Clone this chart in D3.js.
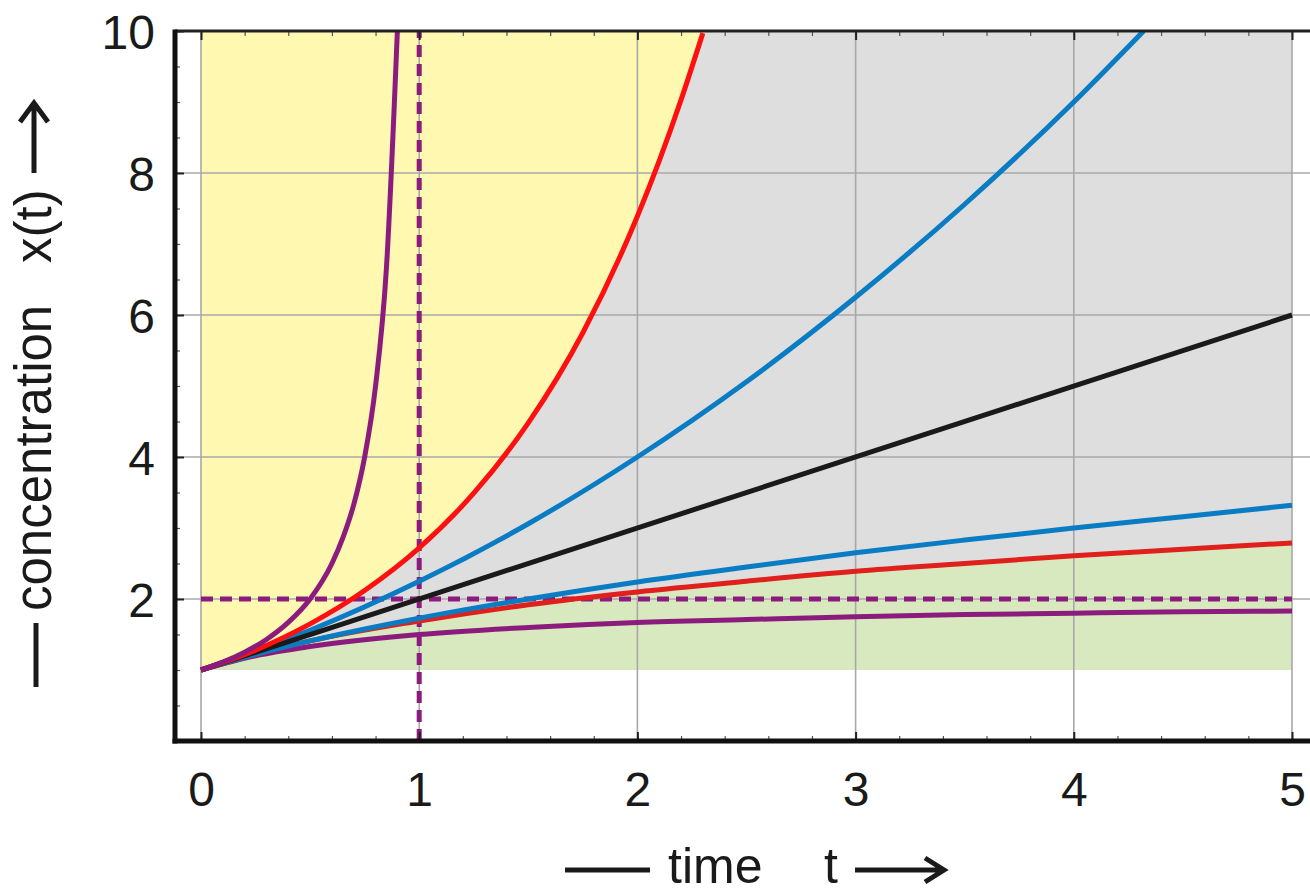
<!DOCTYPE html>
<html>
<head>
<meta charset="utf-8">
<script src="https://cdn.jsdelivr.net/npm/d3@7"></script>
<style>
  body { margin: 0; background: #fff; }
  svg { display: block; }
  text { font-family: "Liberation Sans", Arial, Helvetica, sans-serif; fill: #1a1a1a; }
</style>
</head>
<body>
<div id="chart-area"></div>
<script>
// tick labels
const xTickValues = [0, 1, 2, 3, 4, 5];
const yTickValues = [2, 4, 6, 8, 10];

// curves (time t, concentration x)
const tPurpleUp = [0, 0.1, 0.2, 0.3, 0.4, 0.5, 0.6, 0.65, 0.7, 0.75, 0.8, 0.85, 0.9];
const xPurpleUp = [1, 1.11, 1.25, 1.43, 1.67, 2.0, 2.5, 2.86, 3.33, 4.0, 5.0, 6.67, 10];

const tRedUp = [0, 0.25, 0.5, 0.75, 1, 1.25, 1.5, 1.75, 2, 2.1, 2.2, 2.3];
const xRedUp = [1, 1.28, 1.65, 2.12, 2.72, 3.49, 4.48, 5.75, 7.39, 8.17, 9.03, 9.97];

const tBlueUp = [0, 0.5, 1, 1.5, 2, 2.5, 3, 3.5, 4, 4.32];
const xBlueUp = [1, 1.56, 2.25, 3.06, 4, 5.06, 6.25, 7.56, 9, 10];

const tBlack = [0, 5];
const xBlack = [1, 6];

const tLow = [0, 0.25, 0.5, 1, 1.5, 2, 2.5, 3, 3.5, 4, 4.5, 5];
const xBlueLow = [1, 1.22, 1.41, 1.73, 2, 2.24, 2.45, 2.65, 2.83, 3, 3.16, 3.32];
const xRedLow = [1, 1.22, 1.41, 1.69, 1.92, 2.10, 2.25, 2.39, 2.50, 2.61, 2.70, 2.79];
const xPurpleLow = [1, 1.2, 1.33, 1.5, 1.6, 1.67, 1.71, 1.75, 1.78, 1.8, 1.82, 1.83];

// dashed guide lines
const guideT = 1;
const guideX = 2;

const WIDTH = 1310, HEIGHT = 894;
const FRAME = { LEFT: 175, RIGHT: 1310, TOP: 31, BOTTOM: 741 };

const svg = d3.select("#chart-area").append("svg")
    .attr("width", WIDTH)
    .attr("height", HEIGHT);

const x = d3.scaleLinear().domain([0, 5]).range([201, 1292]);
const y = d3.scaleLinear().domain([0, 10]).range([741, 31]);

const zip = (ts, xs) => ts.map((t, i) => ({ t: t, v: xs[i] }));

svg.append("clipPath").attr("id", "plot-clip")
  .append("rect")
    .attr("x", FRAME.LEFT).attr("y", FRAME.TOP)
    .attr("width", FRAME.RIGHT - FRAME.LEFT).attr("height", FRAME.BOTTOM - FRAME.TOP);

const g = svg.append("g").attr("clip-path", "url(#plot-clip)");

// region fills
g.append("rect")
    .attr("x", x(0)).attr("y", y(10))
    .attr("width", x(5) - x(0)).attr("height", y(1) - y(10))
    .attr("fill", "#dedede");

g.append("path")
    .datum(zip(tRedUp, xRedUp))
    .attr("fill", "#fef8b0")
    .attr("d", d3.area().curve(d3.curveMonotoneX)
        .x(d => x(d.t)).y0(d => y(d.v)).y1(y(10)));

g.append("path")
    .datum(zip(tLow, xRedLow))
    .attr("fill", "#d9e9bf")
    .attr("d", d3.area().curve(d3.curveMonotoneX)
        .x(d => x(d.t)).y0(y(1)).y1(d => y(d.v)));

// grid
g.selectAll(".vgrid").data(xTickValues).enter().append("line")
    .attr("x1", d => x(d)).attr("x2", d => x(d))
    .attr("y1", FRAME.TOP).attr("y2", FRAME.BOTTOM)
    .attr("stroke", "#a8a8a8").attr("stroke-width", 1.6);

g.selectAll(".hgrid").data(yTickValues).enter().append("line")
    .attr("x1", FRAME.LEFT).attr("x2", FRAME.RIGHT)
    .attr("y1", d => y(d)).attr("y2", d => y(d))
    .attr("stroke", "#a8a8a8").attr("stroke-width", 1.6);

// dashed guides
g.append("line")
    .attr("x1", x(guideT)).attr("x2", x(guideT))
    .attr("y1", y(0)).attr("y2", y(10))
    .attr("stroke", "#8b1c7e").attr("stroke-width", 5)
    .attr("stroke-dasharray", "12,7");
g.append("line")
    .attr("x1", x(0)).attr("x2", x(5))
    .attr("y1", y(guideX)).attr("y2", y(guideX))
    .attr("stroke", "#8b1c7e").attr("stroke-width", 5)
    .attr("stroke-dasharray", "12,7");

// curves
const line = d3.line().curve(d3.curveMonotoneX).x(d => x(d.t)).y(d => y(d.v));
const curves = [
    { data: zip(tLow, xPurpleLow), color: "#8b1c7e" },
    { data: zip(tLow, xRedLow), color: "#e0201c" },
    { data: zip(tLow, xBlueLow), color: "#0a7cc4" },
    { data: zip(tBlueUp, xBlueUp), color: "#0a7cc4" },
    { data: zip(tBlack, xBlack), color: "#1a1a1a" },
    { data: zip(tRedUp, xRedUp), color: "#ff1010" },
    { data: zip(tPurpleUp, xPurpleUp), color: "#8b1c7e" }
];
curves.forEach(c => {
    g.append("path")
        .datum(c.data)
        .attr("fill", "none")
        .attr("stroke", c.color)
        .attr("stroke-width", 5)
        .attr("stroke-linejoin", "round")
        .attr("d", line);
});

// minor / major ticks (inward)
const xMinorTicks = d3.range(0, 5.01, 0.2);
const yMinorTicks = d3.range(0.5, 10, 0.5);

svg.append("g")
    .attr("transform", `translate(0, ${FRAME.BOTTOM})`)
    .call(d3.axisBottom(x).tickValues(xMinorTicks).tickSize(-5).tickFormat(""))
    .call(a => a.select(".domain").remove())
    .call(a => a.selectAll("line").attr("stroke", "#555").attr("stroke-width", 1.2));
svg.append("g")
    .attr("transform", `translate(0, ${FRAME.TOP})`)
    .call(d3.axisTop(x).tickValues(xMinorTicks).tickSize(-5).tickFormat(""))
    .call(a => a.select(".domain").remove())
    .call(a => a.selectAll("line").attr("stroke", "#555").attr("stroke-width", 1.2));
svg.append("g")
    .attr("transform", `translate(${FRAME.LEFT}, 0)`)
    .call(d3.axisLeft(y).tickValues(yMinorTicks).tickSize(-5).tickFormat(""))
    .call(a => a.select(".domain").remove())
    .call(a => a.selectAll("line").attr("stroke", "#555").attr("stroke-width", 1.2));
svg.append("g")
    .attr("transform", `translate(0, ${FRAME.BOTTOM})`)
    .call(d3.axisBottom(x).tickValues(xTickValues).tickSize(-9).tickFormat(""))
    .call(a => a.select(".domain").remove())
    .call(a => a.selectAll("line").attr("stroke", "#222").attr("stroke-width", 2));
svg.append("g")
    .attr("transform", `translate(0, ${FRAME.TOP})`)
    .call(d3.axisTop(x).tickValues(xTickValues).tickSize(-9).tickFormat(""))
    .call(a => a.select(".domain").remove())
    .call(a => a.selectAll("line").attr("stroke", "#222").attr("stroke-width", 2));
svg.append("g")
    .attr("transform", `translate(${FRAME.LEFT}, 0)`)
    .call(d3.axisLeft(y).tickValues(yTickValues).tickSize(-9).tickFormat(""))
    .call(a => a.select(".domain").remove())
    .call(a => a.selectAll("line").attr("stroke", "#222").attr("stroke-width", 2));

// frame
svg.append("line")
    .attr("x1", FRAME.LEFT).attr("x2", FRAME.RIGHT)
    .attr("y1", FRAME.TOP).attr("y2", FRAME.TOP)
    .attr("stroke", "#222").attr("stroke-width", 3);
svg.append("line")
    .attr("x1", FRAME.LEFT - 2.5).attr("x2", FRAME.RIGHT)
    .attr("y1", FRAME.BOTTOM).attr("y2", FRAME.BOTTOM)
    .attr("stroke", "#111").attr("stroke-width", 5);
svg.append("line")
    .attr("x1", FRAME.LEFT).attr("x2", FRAME.LEFT)
    .attr("y1", FRAME.TOP - 1.5).attr("y2", FRAME.BOTTOM + 2.5)
    .attr("stroke", "#111").attr("stroke-width", 5);

// tick labels
const xLabelAxis = d3.axisBottom(x).tickValues(xTickValues).tickSize(0).tickPadding(0)
    .tickFormat(d3.format("d"));
svg.append("g")
    .attr("transform", `translate(0, ${FRAME.BOTTOM})`)
    .call(xLabelAxis)
    .call(a => a.select(".domain").remove())
    .call(a => a.selectAll("text")
        .attr("y", 65).attr("dy", null)
        .attr("font-size", "48px")
        .attr("fill", "#1a1a1a"));

const yLabelAxis = d3.axisLeft(y).tickValues(yTickValues).tickSize(0).tickPadding(0)
    .tickFormat(d3.format("d"));
svg.append("g")
    .attr("transform", `translate(${FRAME.LEFT}, 0)`)
    .call(yLabelAxis)
    .call(a => a.select(".domain").remove())
    .call(a => a.selectAll("text")
        .attr("x", -20).attr("dy", "0.36em")
        .attr("font-size", "48px")
        .attr("fill", "#1a1a1a"));

// x title: "— time   t →"
svg.append("line")
    .attr("x1", 565).attr("x2", 650).attr("y1", 870).attr("y2", 870)
    .attr("stroke", "#1a1a1a").attr("stroke-width", 5);
svg.append("text")
    .attr("x", 668).attr("y", 883)
    .attr("font-size", "50px")
    .text("time");
svg.append("text")
    .attr("x", 824).attr("y", 883)
    .attr("font-size", "50px")
    .text("t");
svg.append("path")
    .attr("d", "M855,870 H943 M925,858 L944,870 L925,882")
    .attr("fill", "none").attr("stroke", "#1a1a1a").attr("stroke-width", 5);

// y title: "— concentration  x(t) →"
svg.append("line")
    .attr("x1", 36).attr("x2", 36).attr("y1", 687).attr("y2", 623)
    .attr("stroke", "#1a1a1a").attr("stroke-width", 5);
svg.append("text")
    .attr("transform", "translate(51, 611) rotate(-90)")
    .attr("font-size", "51px")
    .text("concentration");
svg.append("text")
    .attr("transform", "translate(51, 263) rotate(-90)")
    .attr("font-size", "51px")
    .text("x(t)");
svg.append("path")
    .attr("d", "M34,173 V104 M20,122 L34,103 L48,122")
    .attr("fill", "none").attr("stroke", "#1a1a1a").attr("stroke-width", 5);
</script>
</body>
</html>
